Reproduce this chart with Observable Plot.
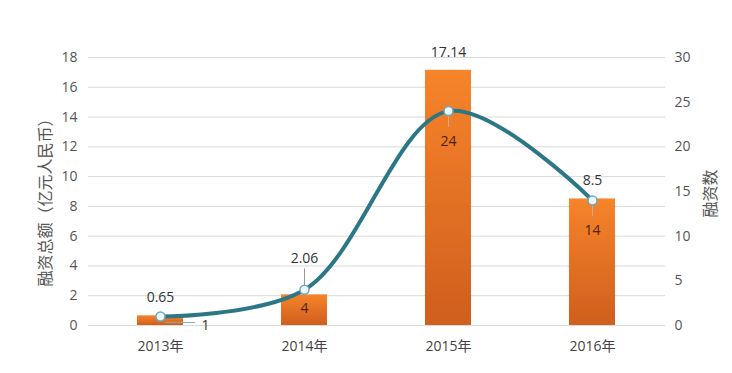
<!DOCTYPE html>
<html>
<head>
<meta charset="utf-8">
<script src="https://cdn.jsdelivr.net/npm/d3@7"></script>
<script src="https://cdn.jsdelivr.net/npm/@observablehq/plot@0.6"></script>
<style>
  html, body { margin: 0; padding: 0; background: #fff; }
  svg { font-family: "Open Sans", "Noto Sans CJK SC", sans-serif; }
</style>
</head>
<body>
<div id="chart"></div>
<script>
const years = ["2013年", "2014年", "2015年", "2016年"];
const amounts = [0.65, 2.06, 17.14, 8.5];
const counts = [1, 4, 24, 14];
const leftTicks = [0, 2, 4, 6, 8, 10, 12, 14, 16, 18];
const rightTicks = [0, 5, 10, 15, 20, 25, 30];
const leftTitle = "融资总额（亿元人民币）";
const rightTitle = "融资数";

const ratio = 18 / 30; // right axis (count) mapped onto left scale
const data = years.map((y, i) => ({year: y, amount: amounts[i], count: counts[i], cy: counts[i] * ratio}));

const defs = () => {
  const g = d3.create("svg:defs");
  const lg = g.append("linearGradient").attr("id", "barGrad").attr("x1", 0).attr("x2", 0).attr("y1", 0).attr("y2", 1);
  lg.append("stop").attr("offset", "0%").attr("stop-color", "#f6842a");
  lg.append("stop").attr("offset", "100%").attr("stop-color", "#d05e1d");
  return g.node();
};

const chart = Plot.plot({
  width: 732,
  height: 373,
  marginLeft: 88,
  marginRight: 67,
  marginTop: 57,
  marginBottom: 48,
  style: {background: "#fff", fontFamily: "'Open Sans', 'Noto Sans CJK SC', sans-serif"},
  x: {domain: years, paddingInner: 0.68, paddingOuter: 0.34},
  y: {domain: [0, 18]},
  marks: [
    defs,
    Plot.gridY(leftTicks, {stroke: "#d9d9d9", strokeOpacity: 1}),
    Plot.barY(data, {x: "year", y: "amount", fill: "url(#barGrad)"}),
    Plot.axisY(leftTicks, {anchor: "left", tickSize: 0, tickPadding: 11, fontSize: 14, color: "#555", label: null}),
    Plot.axisY(rightTicks.map(v => v * ratio), {anchor: "right", tickSize: 0, tickPadding: 9, fontSize: 14, color: "#555",
      tickFormat: d => String(Math.round(d / ratio)), label: null}),
    Plot.axisX({tickSize: 0, tickPadding: 16, fontSize: 14, color: "#444", label: null}),
    Plot.text([leftTitle], {frameAnchor: "left", textAnchor: "middle", text: d => d, rotate: -90, dx: -43, dy: 7, fontSize: 16, fill: "#555"}),
    Plot.text([rightTitle], {frameAnchor: "right", textAnchor: "middle", text: d => d, rotate: -90, dx: 45, dy: 2, fontSize: 16, fill: "#555"}),
    // leader lines for labels
    Plot.tickY(data.filter(d => d.count === 1), {x: "year", y: "cy", dx: 14, dy: 6, insetLeft: 14, insetRight: 2, stroke: "#8aa", strokeWidth: 1}),
    Plot.ruleX(data.filter(d => d.count > 4), {x: "year", y1: "cy", y2: d => d.cy - 1.1, stroke: "#d9a888", strokeWidth: 1}),
    Plot.ruleX(data.filter(d => d.year === "2014年"), {x: "year", y1: "cy", y2: d => d.cy + 1.4, stroke: "#999", strokeWidth: 1}),
    Plot.line(data, {x: "year", y: "cy", curve: "catmull-rom", stroke: "#2b7786", strokeWidth: 4}),
    Plot.dot(data, {x: "year", y: "cy", r: 4.5, fill: "#eef6f8", stroke: "#6aaabb", strokeWidth: 1.5}),
    // amount labels
    Plot.text(data.filter(d => d.year !== "2014年"), {x: "year", y: "amount", text: d => String(d.amount), dy: -18, fontSize: 14, fill: "#333"}),
    Plot.text(data.filter(d => d.year === "2014年"), {x: "year", y: "amount", text: d => String(d.amount), dy: -36, fontSize: 14, fill: "#333"}),
    // count labels
    Plot.text(data.filter(d => d.count === 1), {x: "year", y: "cy", text: d => String(d.count), dx: 45, dy: 9, fontSize: 14, fill: "#333"}),
    Plot.text(data.filter(d => d.count === 4), {x: "year", y: "cy", text: d => String(d.count), dy: 19, fontSize: 14, fill: "#4a230c"}),
    Plot.text(data.filter(d => d.count > 4), {x: "year", y: "cy", text: d => String(d.count), dy: 30, fontSize: 14, fill: "#4a230c"})
  ]
});

document.getElementById("chart").appendChild(chart);
</script>
</body>
</html>
